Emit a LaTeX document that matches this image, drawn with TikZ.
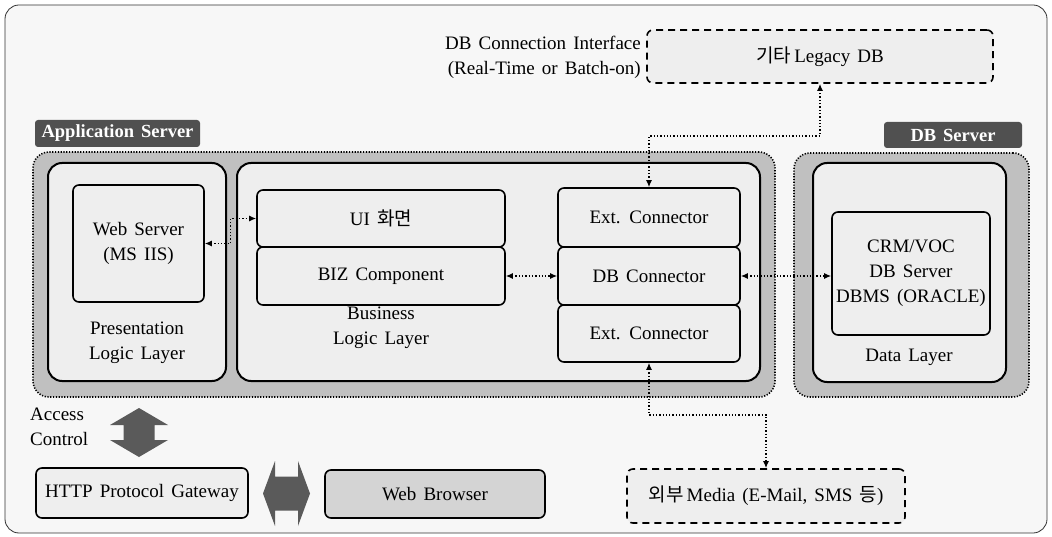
\documentclass[tikz,border=0pt]{standalone}
\usepackage{fontspec}
\setmainfont{Liberation Serif}[WordSpace=1.5]
\newfontfamily\kr{Noto Sans CJK KR}
\usepackage{tikz}
\usetikzlibrary{arrows.meta, calc}
\definecolor{tabgray}    {RGB}{80,  80,  80}
\definecolor{tiergray}   {RGB}{192, 192, 192}
\definecolor{boxgray}    {RGB}{238, 238, 238}
\definecolor{pagegray}   {RGB}{247, 247, 247}
\definecolor{browsergray}{RGB}{212, 212, 212}
\definecolor{arrowgray}  {RGB}{90,  90,  90}

\begin{document}
\begin{tikzpicture}[x=1pt, y=-1pt, font=\fontsize{19}{25}\selectfont,
  tier/.style={draw, fill=tiergray, line width=1.6pt, dash pattern=on 1.2pt off 1.6pt,
    rounded corners=16pt, inner sep=0pt},
  tab/.style={fill=tabgray, text=white, font=\fontsize{18.5}{20}\selectfont\bfseries,
    rounded corners=3pt, inner sep=0pt},
  layer/.style={draw, fill=boxgray, line width=2pt, rounded corners=14pt, inner sep=0pt},
  comp/.style={draw, fill=boxgray, line width=1.6pt, rounded corners=6pt, inner sep=0pt, align=center},
  outbox/.style={draw, fill=boxgray, line width=1.6pt, dash pattern=on 7pt off 5pt,
    rounded corners=6pt, inner sep=0pt},
  txt/.style={align=center, inner sep=0pt},
  link/.style={dotted, line width=1.3pt, {Latex[length=7pt,width=6pt]}-{Latex[length=7pt,width=6pt]}},
  bigarrow/.style={fill=arrowgray}]
  \useasboundingbox (0,0) rectangle (1052,537);
  % page frame
  \draw[fill=pagegray, draw=black!80, line width=0.8pt, rounded corners=14pt] (5,5) rectangle (1047,533);
  % server tiers
  \node[tier, minimum width=742pt, minimum height=245pt] (appsrv) at (404,274.5) {};
  \node[tier, minimum width=235pt, minimum height=244pt] (dbsrv) at (911.5,275) {};
  \node[tab, minimum width=165pt, minimum height=27pt] (apptab) at (117.5,133.5) {Application Server};
  \node[tab, minimum width=138pt, minimum height=26pt] (dbtab) at (953,135) {DB Server};
  % presentation layer
  \node[layer, minimum width=178pt, minimum height=218pt] (pres) at (137,272) {};
  \node[comp, minimum width=131pt, minimum height=117pt] (web) at (138.5,243.5) {Web Server\\(MS IIS)};
  \node[txt] (preslbl) at (137,343) {Presentation\\Logic Layer};
  % business layer
  \node[layer, minimum width=523pt, minimum height=218pt] (biz) at (498.5,272) {};
  \node[comp, minimum width=248pt, minimum height=57pt] (ui) at (381,218.5) {UI {\kr 화면}};
  \node[comp, minimum width=248pt, minimum height=58pt] (bizc) at (381,276) {BIZ Component};
  \node[txt] (bizlbl) at (381,328) {Business\\Logic Layer};
  \node[comp, minimum width=182pt, minimum height=59pt] (ext1) at (649,217.5) {Ext. Connector};
  \node[comp, minimum width=182pt, minimum height=58pt] (dbc) at (649,276) {DB Connector};
  \node[comp, minimum width=182pt, minimum height=57pt] (ext2) at (649,333.5) {Ext. Connector};
  % data layer
  \node[layer, minimum width=193pt, minimum height=219pt] (data) at (909.5,272.5) {};
  \node[comp, minimum width=158pt, minimum height=123pt] (crm) at (911,273.5) {CRM/VOC\\DB Server\\DBMS (ORACLE)};
  \node[txt] (datalbl) at (909,357) {Data Layer};
  % external systems
  \node[outbox, minimum width=346pt, minimum height=53pt] (legacy) at (820,56.5) {{\kr 기타}\,Legacy DB};
  \node[txt, align=right, anchor=east] (connlbl) at (641,57) {DB Connection Interface\\(Real-Time or Batch-on)};
  \node[outbox, minimum width=278pt, minimum height=54pt] (media) at (766,496) {{\kr 외부}\,Media (E-Mail, SMS {\kr 등})};
  % client side
  \node[txt, align=left, anchor=west] (acclbl) at (30,427) {Access\\Control};
  \node[comp, minimum width=212pt, minimum height=50pt] (http) at (142,493) {HTTP Protocol Gateway};
  \node[comp, fill=browsergray, minimum width=220pt, minimum height=48pt] (browser) at (435,494) {Web Browser};
  \coordinate (accarrow) at (139,432.5);
  \coordinate (httparrow) at ($(http.east)!0.5!(browser.west)$);
  \fill[bigarrow, shift={(accarrow)}] (0,-24.5) -- (29,-7.5) -- (15.5,-7.5) -- (15.5,7.5) -- (29,7.5)
    -- (0,24.5) -- (-29,7.5) -- (-15.5,7.5) -- (-15.5,-7.5) -- (-29,-7.5) -- cycle;
  \fill[bigarrow, shift={(httparrow)}] (-23.5,0) -- (-11.5,-32.5) -- (-11.5,-17) -- (11.5,-17) -- (11.5,-32.5)
    -- (23.5,0) -- (11.5,32.5) -- (11.5,17) -- (-11.5,17) -- (-11.5,32.5) -- cycle;
  % connectors
  \coordinate (tap1) at (822,136);
  \coordinate (tap2) at (766,415);
  \draw[link] (ext1.north) |- (legacy.south |- tap1) -- (legacy.south);
  \draw[link] (ext2.south) |- (tap2) -- (media.north);
  \draw[link] (web.east) -| ($(web.east)!0.5!(ui.west)$) |- (ui.west);
  \draw[link] (bizc.east) -- (dbc.west);
  \draw[link] (dbc.east) -- (crm.west |- dbc.east);
\end{tikzpicture}
\end{document}
